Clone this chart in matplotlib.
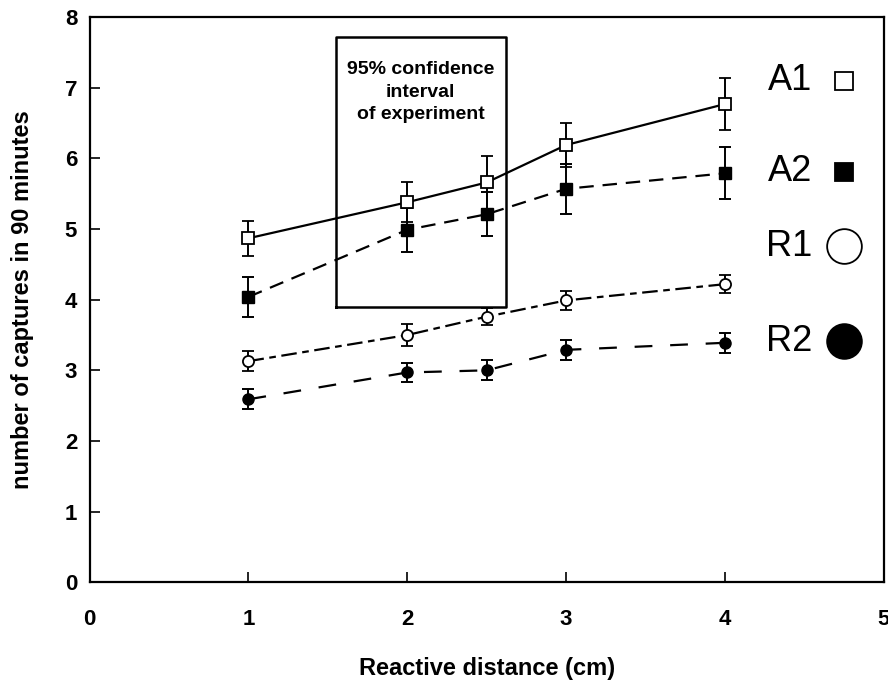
import numpy as np
import matplotlib.pyplot as plt

plt.rcParams['font.family'] = ['Liberation Sans', 'DejaVu Sans']
plt.rcParams['font.weight'] = 'bold'

# reactive distance (cm)
x = [1, 2, 2.5, 3, 4]

# mean captures in 90 minutes and error bar half-widths
a1 = [4.87, 5.38, 5.66, 6.19, 6.77]
a1_err = [0.25, 0.28, 0.37, 0.31, 0.37]
a2 = [4.04, 4.99, 5.21, 5.57, 5.79]
a2_err = [0.28, 0.31, 0.31, 0.35, 0.37]
r1 = [3.13, 3.50, 3.76, 3.99, 4.22]
r1_err = [0.14, 0.15, 0.12, 0.13, 0.13]
r2 = [2.59, 2.97, 3.00, 3.29, 3.39]
r2_err = [0.14, 0.14, 0.14, 0.14, 0.14]

# confidence box (x range, y range)
box_x = [1.55, 2.62]
box_y = [3.90, 7.72]
box_text = "95% confidence\ninterval\nof experiment"

legend_names = ['A1', 'A2', 'R1', 'R2']
legend_y = [7.10, 5.81, 4.76, 3.41]

fig = plt.figure(figsize=(8.88, 6.89), dpi=100)
ax = fig.add_axes([0.101, 0.155, 0.894, 0.82])

lw = 1.6
common = dict(color='black', ecolor='black', elinewidth=1.4, capsize=4.5,
              capthick=1.4, lw=lw)

ax.errorbar(x, a1, yerr=a1_err, marker='s', ms=9, mfc='white', mec='black',
            mew=1.3, ls='-', **common)
ax.errorbar(x, a2, yerr=a2_err, marker='s', ms=9, mfc='black', mec='black',
            ls=(0, (6.5, 4)), **common)
ax.errorbar(x, r1, yerr=r1_err, marker='o', ms=8, mfc='white', mec='black',
            mew=1.3, ls=(0, (7, 2.5, 3, 2.5)), **common)
ax.errorbar(x, r2, yerr=r2_err, marker='o', ms=8, mfc='black', mec='black',
            ls=(0, (8, 8)), **common)

# confidence interval box
ax.plot([box_x[0], box_x[1], box_x[1], box_x[0], box_x[0]],
        [box_y[0], box_y[0], box_y[1], box_y[1], box_y[0]],
        color='black', lw=1.8)
ax.text(sum(box_x) / 2, 6.94, box_text, ha='center', va='center',
        fontsize=14, fontweight='bold', linespacing=1.45)

# legend drawn inside the axes
for name, ly, mk, fc, ms in zip(legend_names, legend_y,
                                ['s', 's', 'o', 'o'],
                                ['white', 'black', 'white', 'black'],
                                [13, 13, 25, 25]):
    ax.text(4.55, ly, name, ha='right', va='center', fontsize=26,
            fontweight='normal')
    ax.plot([4.75], [ly], marker=mk, ms=ms, mfc=fc, mec='black', mew=1.3,
            ls='none')

ax.set_xlim(0, 5)
ax.set_ylim(0, 8)
ax.set_xticks([0, 1, 2, 3, 4, 5])
ax.set_yticks(range(0, 9))
ax.tick_params(direction='in', length=7, width=1.2, labelsize=16)
ax.tick_params(axis='x', pad=19)
ax.tick_params(axis='y', pad=9)
for lab in ax.get_xticklabels() + ax.get_yticklabels():
    lab.set_fontweight('bold')
for s in ax.spines.values():
    s.set_linewidth(1.6)

ax.set_xlabel('Reactive distance (cm)', fontsize=17, fontweight='bold',
              labelpad=20)
ax.set_ylabel('number of captures in 90 minutes', fontsize=17,
              fontweight='bold', labelpad=22)

fig.savefig('out.png', dpi=100)
